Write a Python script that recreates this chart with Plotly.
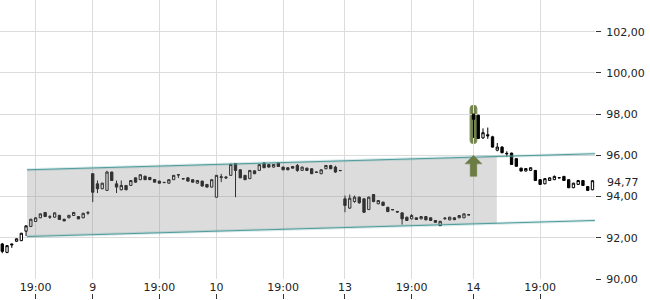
import plotly.graph_objects as go

# ---------------- data ----------------
tick_pos = [7, 19, 33, 45, 59, 72, 86, 99, 113]
tick_text = ["19:00", "9", "19:00", "10", "19:00", "13", "19:00", "14", "19:00"]
y_ticks = [90, 92, 94, 96, 98, 100, 102]

opens = [91.70, 91.29, 91.70, 91.83, 91.86, 92.32, 92.55, 92.79, 92.97, 93.23,
         93.00, 93.00, 93.09, 92.90, 92.97, 93.08, 93.03, 92.97, 93.20,
         95.11, 94.62, 94.38, 94.30, 95.19, 94.62, 94.33, 94.54, 94.54, 94.91,
         94.82, 94.99, 94.93, 94.83, 94.75, 94.69, 94.65, 94.82, 95.05, 94.87,
         94.91, 94.82, 94.65, 94.75, 94.59, 94.46,
         93.97, 94.92, 94.90, 95.03, 95.60, 95.30, 95.03, 94.87, 95.25, 95.27,
         95.63, 95.56, 95.43, 95.63, 95.43, 95.40, 95.46, 95.51, 95.27, 95.38,
         95.35, 95.19, 95.11, 95.35, 95.51, 95.43, 95.27,
         93.89, 93.44, 93.76, 93.97, 93.89, 93.37, 94.10, 93.65, 93.73, 93.48,
         93.37, 93.28, 93.21, 93.00, 92.92, 92.97, 92.92, 93.03, 92.97, 92.84,
         92.59, 92.93, 92.87, 92.97, 92.97, 92.97, 93.12,
         98.00, 97.95, 96.85, 97.00, 96.90, 96.25, 96.40, 96.10, 96.11, 95.84,
         95.38, 95.24, 95.27, 95.27, 94.82, 94.62, 94.78, 94.82, 94.92, 94.98,
         94.82, 94.43, 94.59, 94.78, 94.49, 94.33]
highs = [91.75, 91.65, 91.72, 91.97, 92.24, 92.60, 92.92, 92.99, 93.18, 93.25,
         93.10, 93.23, 93.11, 92.92, 93.11, 93.25, 93.05, 93.21, 93.30,
         95.13, 94.78, 94.67, 95.25, 95.21, 94.78, 94.78, 94.56, 94.80, 94.93,
         95.08, 95.01, 94.95, 94.85, 94.77, 94.71, 94.84, 95.05, 95.07, 94.89,
         94.93, 94.84, 94.80, 94.77, 94.61, 94.84,
         95.05, 95.10, 95.00, 95.60, 95.62, 95.32, 95.05, 95.29, 95.27, 95.57,
         95.65, 95.58, 95.58, 95.65, 95.45, 95.42, 95.48, 95.58, 95.45, 95.40,
         95.37, 95.21, 95.32, 95.53, 95.53, 95.50, 95.29,
         94.05, 94.10, 94.05, 94.00, 93.92, 94.00, 94.12, 93.83, 93.75, 93.50,
         93.39, 93.30, 93.23, 93.02, 93.15, 92.99, 93.05, 93.05, 92.99, 92.86,
         92.82, 93.00, 93.02, 92.99, 93.10, 93.18, 93.13,
         98.02, 97.97, 97.31, 97.35, 96.95, 96.60, 96.45, 96.20, 96.13, 95.86,
         95.40, 95.38, 95.42, 95.29, 94.84, 94.89, 94.93, 95.02, 94.94, 95.00,
         94.84, 94.67, 94.80, 94.80, 94.51, 94.80]
lows = [91.25, 91.25, 91.51, 91.80, 91.84, 92.08, 92.52, 92.77, 92.95, 93.01,
        92.92, 92.98, 92.87, 92.80, 92.95, 93.06, 92.90, 92.95, 93.12,
        93.73, 94.17, 94.36, 94.28, 94.76, 94.17, 94.30, 94.31, 94.52, 94.68,
        94.80, 94.80, 94.80, 94.68, 94.63, 94.66, 94.63, 94.80, 94.90, 94.84,
        94.73, 94.68, 94.63, 94.49, 94.44, 94.44,
        93.95, 94.70, 94.85, 95.01, 93.97, 94.89, 94.80, 94.85, 95.09, 95.25,
        95.38, 95.41, 95.41, 95.44, 95.28, 95.28, 95.36, 95.20, 95.25, 95.25,
        95.09, 95.16, 95.09, 95.33, 95.33, 95.15, 95.24,
        93.24, 93.40, 93.70, 93.65, 93.20, 93.35, 93.72, 93.63, 93.55, 93.25,
        93.34, 93.23, 92.64, 92.82, 92.90, 92.87, 92.90, 92.85, 92.82, 92.73,
        92.57, 92.86, 92.85, 92.86, 92.95, 92.95, 93.10,
        96.85, 96.80, 96.80, 96.80, 96.38, 96.20, 96.10, 95.95, 95.54, 95.45,
        95.22, 95.22, 95.25, 94.76, 94.57, 94.60, 94.76, 94.80, 94.89, 94.76,
        94.41, 94.41, 94.57, 94.52, 94.28, 94.31]
closes = [91.34, 91.62, 91.66, 91.95, 92.22, 92.58, 92.90, 92.97, 93.16, 93.03,
          93.02, 93.21, 92.89, 92.82, 93.09, 93.23, 92.92, 93.19, 93.22,
          94.21, 94.38, 94.65, 95.19, 94.78, 94.46, 94.54, 94.33, 94.78, 94.70,
          95.06, 94.82, 94.82, 94.70, 94.65, 94.68, 94.82, 95.03, 95.06, 94.86,
          94.75, 94.70, 94.78, 94.51, 94.46, 94.82,
          95.03, 94.96, 94.94, 95.56, 95.27, 94.91, 94.82, 95.27, 95.11, 95.55,
          95.40, 95.43, 95.56, 95.46, 95.30, 95.30, 95.38, 95.27, 95.43, 95.27,
          95.11, 95.18, 95.30, 95.51, 95.35, 95.19, 95.26,
          93.57, 93.92, 93.97, 93.70, 93.24, 93.97, 93.76, 93.81, 93.57, 93.27,
          93.36, 93.25, 92.92, 92.84, 93.08, 92.89, 93.03, 92.87, 92.84, 92.75,
          92.80, 92.95, 93.00, 92.88, 93.08, 93.16, 93.11,
          97.75, 96.82, 97.10, 96.95, 96.40, 96.40, 96.13, 96.08, 95.56, 95.47,
          95.24, 95.36, 95.40, 94.78, 94.59, 94.87, 94.91, 94.98, 94.91, 94.78,
          94.43, 94.65, 94.78, 94.54, 94.30, 94.77]

# trend channel (slot index, price)
channel_x = [5.2, 124.5]
channel_upper = [95.30, 96.08]
channel_lower = [92.06, 92.84]
shade_x = [5.2, 103.9]
shade_upper = [95.30, 95.95]
shade_lower = [92.06, 92.71]

# breakout signal
signal_idx = 99
signal_tip = 96.00
highlight_low = 96.57
highlight_high = 98.43
last_price = closes[-1]

# ---------------- layout geometry ----------------
W, H = 650, 300
M_R = 55
PLOT_W = W - M_R
PLOT_BOTTOM = 279
x_range = [-0.48, 124.53]
y_range = [90.0, 103.54]
x_per_px = (x_range[1] - x_range[0]) / PLOT_W
y_per_px = (y_range[1] - y_range[0]) / PLOT_BOTTOM

FONT = "DejaVu Sans"
TXT = "#222222"
GRID = "#dcdcdc"
TEAL = "#4f9c9c"
OLIVE = "#6d7c45"

n = len(closes)
xs = list(range(n))

fig = go.Figure()

# shaded channel
fig.add_trace(go.Scatter(
    x=shade_x + shade_x[::-1], y=shade_upper + shade_lower[::-1],
    fill="toself", fillcolor="rgba(150,150,150,0.33)", line=dict(width=0),
    mode="lines", hoverinfo="skip", showlegend=False))

# channel lines (halo + core)
for ys in (channel_upper, channel_lower):
    fig.add_trace(go.Scatter(x=channel_x, y=ys, mode="lines",
                             line=dict(color="rgba(79,156,156,0.22)", width=3),
                             hoverinfo="skip", showlegend=False))
    fig.add_trace(go.Scatter(x=channel_x, y=ys, mode="lines",
                             line=dict(color=TEAL, width=1),
                             hoverinfo="skip", showlegend=False))

# highlight pill behind signal candle
hw = 3.4 * x_per_px
rx = 3.0 * x_per_px
ry = 3.0 * y_per_px
x0, x1 = signal_idx - hw, signal_idx + hw
y0, y1 = highlight_low, highlight_high
path = (f"M {x0+rx},{y0} L {x1-rx},{y0} Q {x1},{y0} {x1},{y0+ry} "
        f"L {x1},{y1-ry} Q {x1},{y1} {x1-rx},{y1} L {x0+rx},{y1} "
        f"Q {x0},{y1} {x0},{y1-ry} L {x0},{y0+ry} Q {x0},{y0} {x0+rx},{y0} Z")
fig.add_shape(type="path", path=path, xref="x", yref="y",
              fillcolor=OLIVE, line=dict(color="#7f8f55", width=1),
              opacity=0.95, layer="below")

# candles
fig.add_trace(go.Candlestick(
    x=xs, open=opens, high=highs, low=lows, close=closes,
    increasing=dict(line=dict(color="#000000", width=1), fillcolor="#ffffff"),
    decreasing=dict(line=dict(color="#000000", width=1), fillcolor="#000000"),
    whiskerwidth=0, hoverinfo="skip", showlegend=False))

# arrow under the signal candle
head_hw = 8.5 * x_per_px
shaft_hw = 3.3 * x_per_px
head_h = 8.5 * y_per_px
arrow_len = 21.0 * y_per_px
t = signal_tip
ax = [signal_idx, signal_idx + head_hw, signal_idx + shaft_hw, signal_idx + shaft_hw,
      signal_idx - shaft_hw, signal_idx - shaft_hw, signal_idx - head_hw, signal_idx]
ay = [t, t - head_h, t - head_h, t - arrow_len, t - arrow_len, t - head_h, t - head_h, t]
fig.add_trace(go.Scatter(x=ax, y=ay, fill="toself", fillcolor=OLIVE,
                         line=dict(color=OLIVE, width=0.5), mode="lines",
                         hoverinfo="skip", showlegend=False))

# empty trace for tick-mark axis
fig.add_trace(go.Scatter(x=[], y=[], xaxis="x2", yaxis="y2", showlegend=False))

fig.add_annotation(x=1, xref="paper", y=last_price, yref="y",
                   text=f"{last_price:.2f}".replace(".", ","),
                   showarrow=False, xanchor="left", yanchor="middle",
                   xshift=10, yshift=-2,
                   font=dict(family=FONT, size=11, color=TXT))

fig.update_layout(
    width=W, height=H,
    margin=dict(l=0, r=M_R, t=0, b=0, autoexpand=False),
    paper_bgcolor="white", plot_bgcolor="white",
    separators=",.",
    font=dict(family=FONT, size=11, color=TXT),
    showlegend=False,
    xaxis=dict(range=x_range, tickvals=tick_pos, ticktext=tick_text,
               showgrid=True, gridcolor=GRID, gridwidth=1, ticks="",
               zeroline=False, showline=False, rangeslider=dict(visible=False),
               tickfont=dict(family=FONT, size=11, color=TXT), anchor="y",
               automargin=False, fixedrange=True),
    yaxis=dict(domain=[(H - PLOT_BOTTOM) / H, 1], range=y_range,
               tickvals=y_ticks, tickformat=".2f", side="right",
               showgrid=True, gridcolor=GRID, gridwidth=1,
               ticks="outside", ticklen=5, tickcolor="#333333",
               zeroline=False, showline=False, anchor="x",
               ticklabelstandoff=3, automargin=False,
               tickfont=dict(family=FONT, size=11, color=TXT)),
    xaxis2=dict(range=x_range, tickvals=tick_pos, showticklabels=False,
                ticks="inside", ticklen=5, tickcolor="#333333",
                showgrid=False, zeroline=False, showline=False, anchor="y2",
                automargin=False),
    yaxis2=dict(domain=[1 / H, 6 / H], visible=False, anchor="x2",
                range=[0, 1], automargin=False),
)

fig.write_html("out.html")
